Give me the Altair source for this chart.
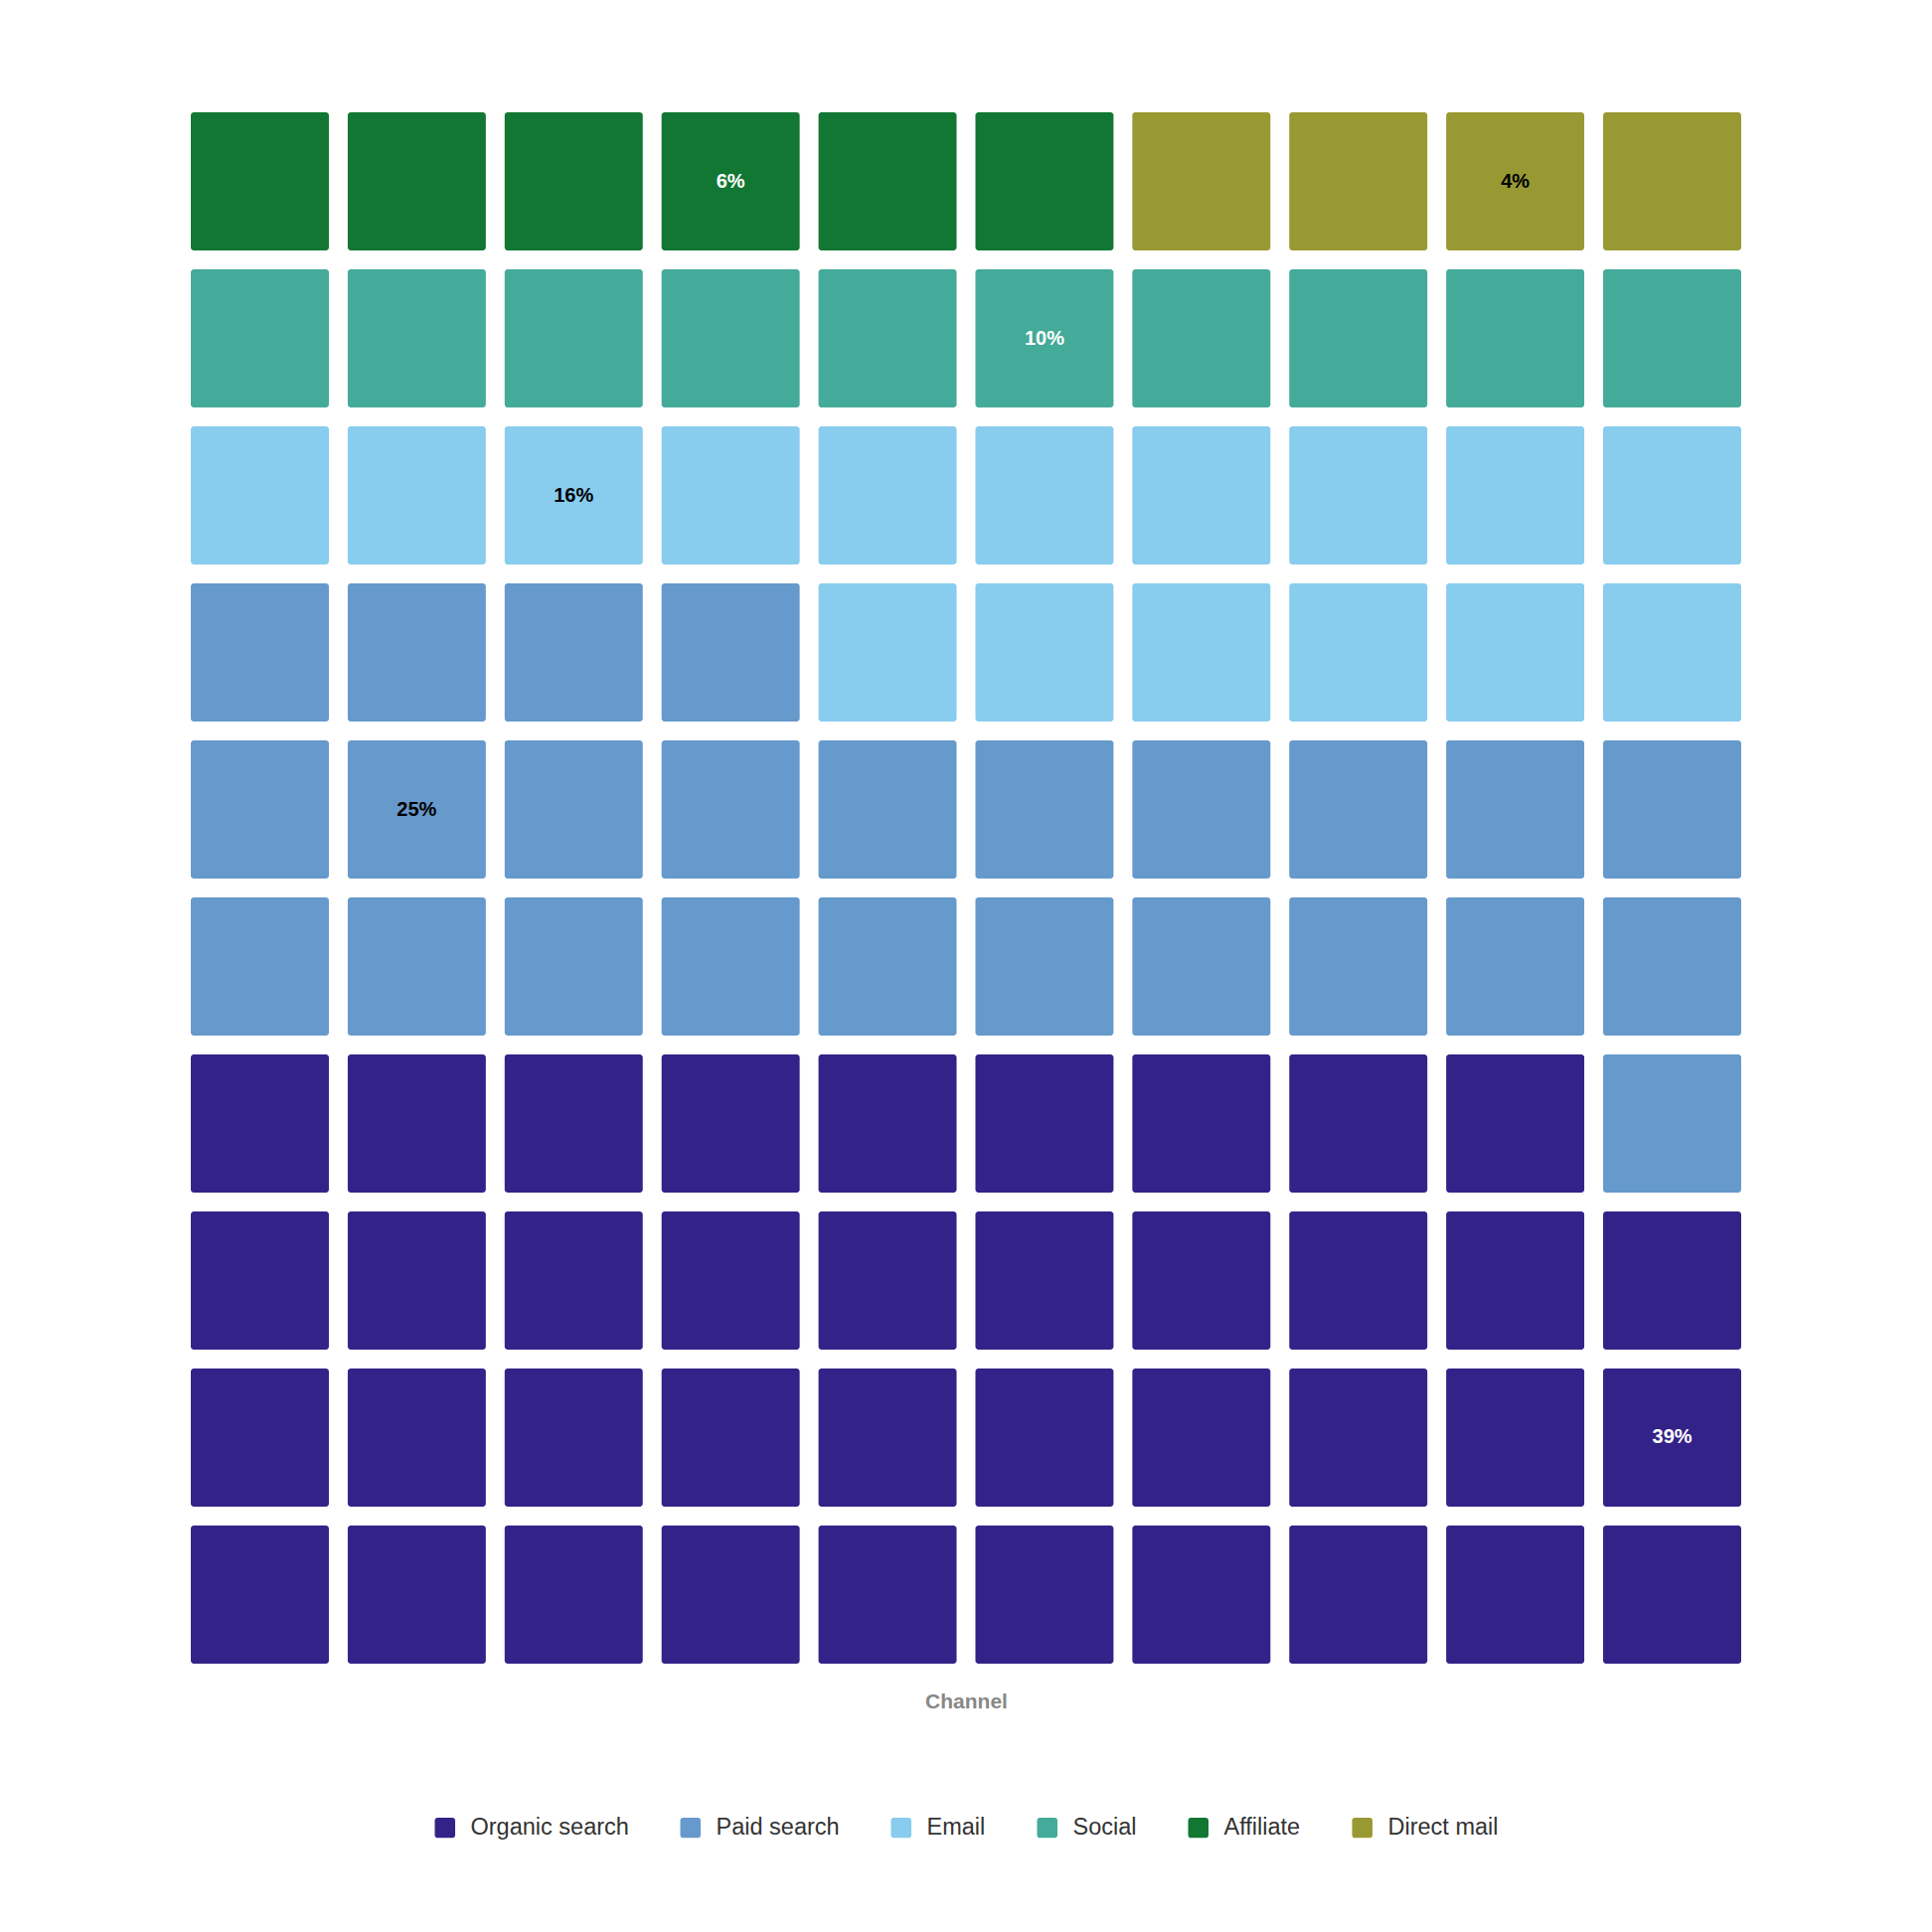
import altair as alt
import pandas as pd

# ---- data ----
categories = ["Organic search", "Paid search", "Email", "Social", "Affiliate", "Direct mail"]
percent = [39, 25, 16, 10, 6, 4]
colors = ["#332288", "#6699CC", "#88CCEE", "#44AA99", "#117733", "#999933"]
dark_fill = [True, False, False, True, True, False]
n_cols = 10

# build waffle cells (one per percent point), filled from bottom-left, row by row
records = []
idx = 0
for cat, pct, dark in zip(categories, percent, dark_fill):
    label_idx = idx + pct // 2
    for _ in range(pct):
        records.append({
            "channel": cat,
            "col": idx % n_cols,
            "row": idx // n_cols,
            "label": f"{pct}%" if idx == label_idx else "",
            "dark": dark,
        })
        idx += 1
df = pd.DataFrame(records)

FONT = "Liberation Sans"
rounded = ("M-0.7,-1 L0.7,-1 Q1,-1 1,-0.7 L1,0.7 Q1,1 0.7,1 L-0.7,1 "
           "Q-1,1 -1,0.7 L-1,-0.7 Q-1,-1 -0.7,-1 Z")

x_enc = alt.X(
    "col:O",
    scale=alt.Scale(paddingInner=0.12, paddingOuter=0),
    axis=alt.Axis(
        title="Channel", labels=False, ticks=False, domain=False, grid=False,
        titleFont=FONT, titleFontSize=21, titleFontWeight="bold",
        titleColor="#888888", titlePadding=27,
    ),
)
y_enc = alt.Y(
    "row:O",
    sort="descending",
    scale=alt.Scale(paddingInner=0.12, paddingOuter=0),
    axis=None,
)

cells = alt.Chart(df).mark_rect(cornerRadius=3).encode(
    x=x_enc,
    y=y_enc,
    color=alt.Color(
        "channel:N",
        scale=alt.Scale(domain=categories, range=colors),
        legend=alt.Legend(
            title=None,
            orient="none",
            direction="horizontal",
            legendX=244,
            legendY=1714,
            symbolType=rounded,
            symbolSize=420,
            symbolStrokeWidth=0,
            labelFont=FONT,
            labelFontSize=23.5,
            labelColor="#333333",
            labelOffset=14,
            columnPadding=50,
            padding=0,
        ),
    ),
)

labels = alt.Chart(df).transform_filter(alt.datum.label != "").mark_text(
    font=FONT, fontSize=20, fontWeight="bold", align="center", baseline="middle"
).encode(
    x=x_enc,
    y=y_enc,
    text="label:N",
    color=alt.condition("datum.dark", alt.value("white"), alt.value("black")),
)

chart = alt.layer(cells, labels).properties(
    width=1560,
    height=1561,
    padding={"left": 184, "top": 105, "right": 20, "bottom": 40},
    background="white",
).configure_view(stroke=None)

chart.save("out.html", embed_options={"renderer": "svg", "actions": False})
